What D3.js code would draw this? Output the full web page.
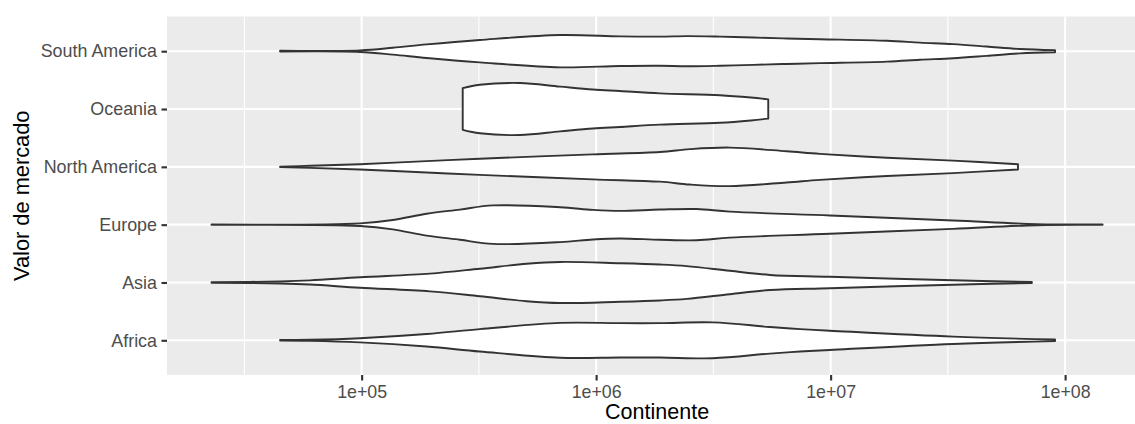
<!DOCTYPE html>
<html><head><meta charset="utf-8">
<script src="https://cdn.jsdelivr.net/npm/d3@7"></script>
<style>body{margin:0;background:#fff}svg{display:block;font-family:"Liberation Sans",Arial,Helvetica,sans-serif}</style>
</head><body><svg id="c" width="1135" height="424"></svg>
<script>
// ---- data ----
const continents = ["South America","Oceania","North America","Europe","Asia","Africa"];
const xTickValues = [1e5, 1e6, 1e7, 1e8];
const xTickLabels = ["1e+05","1e+06","1e+07","1e+08"];
const xMinorValues = [3.162e4, 3.162e5, 3.162e6, 3.162e7];
const xLimits = [1.479e4, 2.239e8];
const xTitle = "Continente";
const yTitle = "Valor de mercado";

// violin outlines: market value and relative density (1 = widest violin)
const southAmericaValue   = [44900, 98400, 135800, 189200, 319200, 701500, 1.262e6, 1.871e6, 2.432e6, 3.373e6, 4.677e6, 6.486e6, 8.995e6, 1.738e7, 2.4e7, 3.327e7, 4.62e7, 6.412e7, 9.057e7];
const southAmericaDensity = [0.015, 0.03, 0.13, 0.26, 0.43, 0.62, 0.57, 0.56, 0.58, 0.56, 0.525, 0.49, 0.46, 0.40, 0.33, 0.27, 0.18, 0.085, 0.04];

const oceaniaValue   = [269800, 319200, 473200, 701500, 968200, 1.262e6, 1.871e6, 3.373e6, 4.571e6, 5.420e6];
const oceaniaDensity = [0.80, 0.93, 1.0, 0.86, 0.75, 0.69, 0.60, 0.53, 0.44, 0.37];

const northAmericaValue   = [44900, 60300, 98400, 189200, 319200, 968200, 1.871e6, 2.512e6, 3.715e6, 6.486e6, 8.995e6, 1.738e7, 3.327e7, 6.295e7];
const northAmericaDensity = [0.01, 0.04, 0.10, 0.22, 0.31, 0.48, 0.57, 0.68, 0.74, 0.60, 0.50, 0.35, 0.24, 0.10];

const europeValue   = [22900, 98400, 135800, 189200, 262400, 363100, 701500, 968200, 1.262e6, 1.871e6, 2.685e6, 3.715e6, 9.931e6, 3.327e7, 7.586e7, 1.445e8];
const europeDensity = [0.008, 0.05, 0.18, 0.42, 0.58, 0.74, 0.67, 0.57, 0.53, 0.58, 0.60, 0.50, 0.35, 0.16, 0.02, 0.008];

const asiaValue   = [22900, 44900, 60300, 98400, 195400, 319200, 505800, 701500, 1.262e6, 1.871e6, 2.432e6, 3.715e6, 5.508e6, 9.931e6, 3.327e7, 7.211e7];
const asiaDensity = [0.008, 0.04, 0.08, 0.20, 0.34, 0.53, 0.72, 0.79, 0.74, 0.69, 0.63, 0.45, 0.29, 0.22, 0.085, 0.02];

const africaValue   = [44900, 60300, 98400, 189200, 319200, 701500, 1.262e6, 1.871e6, 3.148e6, 5.508e6, 7.413e6, 9.931e6, 3.327e7, 9.057e7];
const africaDensity = [0.01, 0.02, 0.08, 0.24, 0.43, 0.67, 0.66, 0.66, 0.69, 0.51, 0.43, 0.37, 0.14, 0.03];

const violinValues = {
  "South America": [southAmericaValue, southAmericaDensity],
  "Oceania": [oceaniaValue, oceaniaDensity],
  "North America": [northAmericaValue, northAmericaDensity],
  "Europe": [europeValue, europeDensity],
  "Asia": [asiaValue, asiaDensity],
  "Africa": [africaValue, africaDensity]
};

// ---- layout ----
const panel = {left: 167, right: 1147.2, top: 16.5, bottom: 375};
const svg = d3.select("#c");

const x = d3.scaleLog().domain(xLimits).range([panel.left, panel.right]);
const y = d3.scalePoint().domain(continents).range([panel.top, panel.bottom]).padding(0.6);
const w = d3.scaleLinear().domain([0, 1]).range([0, 0.45 * y.step()]);

svg.append("rect")
  .attr("x", panel.left).attr("y", panel.top)
  .attr("width", panel.right - panel.left).attr("height", panel.bottom - panel.top)
  .attr("fill", "#EBEBEB");

const grid = svg.append("g");
grid.selectAll("line.minor").data(xMinorValues).join("line")
  .attr("class", "minor")
  .attr("x1", d => x(d)).attr("x2", d => x(d))
  .attr("y1", panel.top).attr("y2", panel.bottom)
  .attr("stroke", "#fff").attr("stroke-width", 1.07);
grid.selectAll("line.majx").data(xTickValues).join("line")
  .attr("class", "majx")
  .attr("x1", d => x(d)).attr("x2", d => x(d))
  .attr("y1", panel.top).attr("y2", panel.bottom)
  .attr("stroke", "#fff").attr("stroke-width", 2.13);
grid.selectAll("line.majy").data(continents).join("line")
  .attr("class", "majy")
  .attr("x1", panel.left).attr("x2", panel.right)
  .attr("y1", d => y(d)).attr("y2", d => y(d))
  .attr("stroke", "#fff").attr("stroke-width", 2.13);

// violins
const vg = svg.append("g");
continents.forEach(c => {
  const [vals, dens] = violinValues[c];
  const pts = vals.map((v, i) => [v, dens[i]]);
  const area = d3.area()
    .x(d => x(d[0]))
    .y0(d => y(c) - w(d[1]))
    .y1(d => y(c) + w(d[1]))
    .curve(d3.curveCatmullRom.alpha(0.5));
  vg.append("path")
    .attr("d", area(pts))
    .attr("fill", "#fff")
    .attr("stroke", "#333333")
    .attr("stroke-width", 1.9)
    .attr("stroke-linejoin", "round");
});

// axes
const xAxis = d3.axisBottom(x).tickValues(xTickValues)
  .tickFormat((d, i) => xTickLabels[i]).tickSize(5.5).tickPadding(4.5);
const gx = svg.append("g").attr("transform", `translate(0,${panel.bottom})`).call(xAxis);
gx.select(".domain").remove();
gx.selectAll(".tick line").attr("stroke", "#333333").attr("stroke-width", 2.13);
gx.selectAll(".tick text").attr("fill", "#4D4D4D").attr("font-size", 17.8)
  .attr("font-family", "Liberation Sans, Arial, sans-serif");

const yAxis = d3.axisLeft(y).tickSize(5.5).tickPadding(4.5);
const gy = svg.append("g").attr("transform", `translate(${panel.left},0)`).call(yAxis);
gy.select(".domain").remove();
gy.selectAll(".tick line").attr("stroke", "#333333").attr("stroke-width", 2.13);
gy.selectAll(".tick text").attr("fill", "#4D4D4D").attr("font-size", 17.9)
  .attr("font-family", "Liberation Sans, Arial, sans-serif");

svg.append("text")
  .attr("x", (panel.left + panel.right) / 2).attr("y", 419)
  .attr("text-anchor", "middle").attr("font-size", 21.5).attr("fill", "#000")
  .text(xTitle);
svg.append("text")
  .attr("transform", `translate(28.5,${(panel.top + panel.bottom) / 2}) rotate(-90)`)
  .attr("text-anchor", "middle").attr("font-size", 21.8).attr("fill", "#000")
  .text(yTitle);
</script></body></html>
